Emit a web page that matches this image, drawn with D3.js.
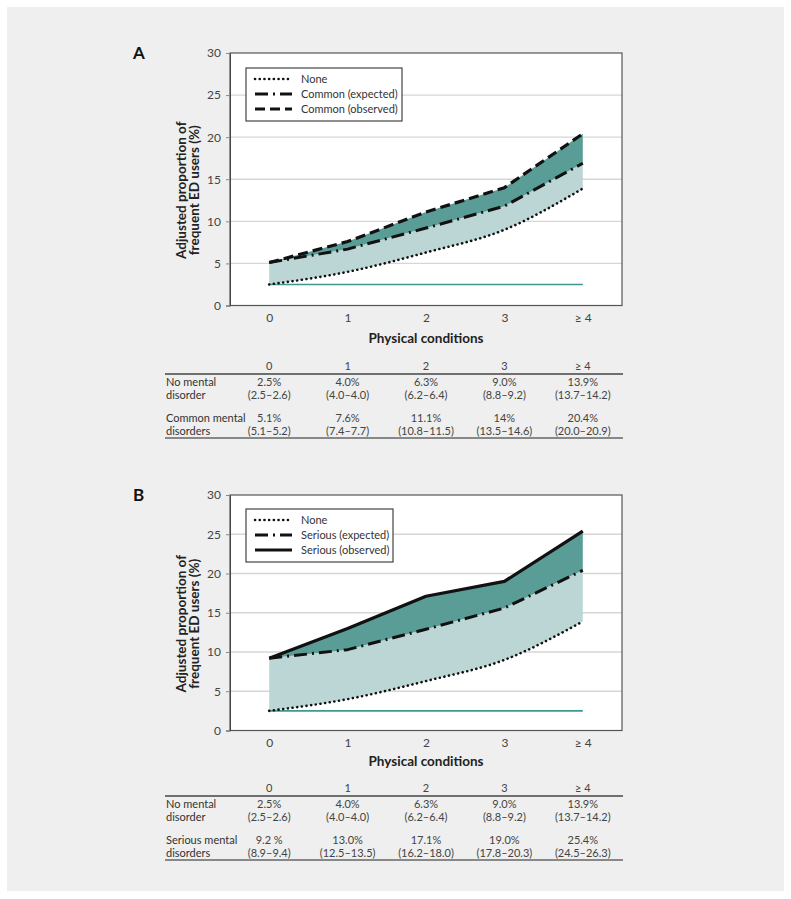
<!DOCTYPE html>
<html>
<head>
<meta charset="utf-8">
<script src="https://cdn.jsdelivr.net/npm/d3@7/dist/d3.min.js"></script>
<style>
  body { margin: 0; background: #fff; }
  svg text { font-family: Lato, "Noto Sans", sans-serif; }
</style>
</head>
<body>
<script>
// data
let categories = ['0', '1', '2', '3', '\u2265 4'];
let noneVals = [2.5, 4.0, 6.3, 9.0, 13.9];
let baseVals = [2.5, 2.5, 2.5, 2.5, 2.5];
let commonExpected = [5.1, 6.7, 9.2, 11.8, 16.9];
let commonObserved = [5.1, 7.6, 11.1, 14.0, 20.4];
let seriousExpected = [9.2, 10.3, 12.9, 15.6, 20.4];
let seriousObserved = [9.2, 13.0, 17.1, 19.0, 25.4];
let yTicks = [0, 5, 10, 15, 20, 25, 30];

let noneTable = [['2.5%', '(2.5\u20132.6)'], ['4.0%', '(4.0\u20134.0)'], ['6.3%', '(6.2\u20136.4)'], ['9.0%', '(8.8\u20139.2)'], ['13.9%', '(13.7\u201314.2)']];
let commonTable = [['5.1%', '(5.1\u20135.2)'], ['7.6%', '(7.4\u20137.7)'], ['11.1%', '(10.8\u201311.5)'], ['14%', '(13.5\u201314.6)'], ['20.4%', '(20.0\u201320.9)']];
let seriousTable = [['9.2 %', '(8.9\u20139.4)'], ['13.0%', '(12.5\u201313.5)'], ['17.1%', '(16.2\u201318.0)'], ['19.0%', '(17.8\u201320.3)'], ['25.4%', '(24.5\u201326.3)']];

let W = 791, H = 899;
let svg = d3.select('body').append('svg')
    .attr('width', W)
    .attr('height', H);

svg.append('rect')
    .attr('x', 7).attr('y', 7)
    .attr('width', 777).attr('height', 884)
    .attr('fill', '#eeefee');

let left = 230, right = 622;
let x = d3.scalePoint()
    .domain(categories)
    .range([left, right])
    .padding(0.5);

let styles = {
    none: {dash: '0.1 4.6', width: 2.6, cap: 'round'},
    expected: {dash: '13 5 2 5', width: 3, cap: 'butt'},
    dashed: {dash: '10 5', width: 3.2, cap: 'butt'},
    solid: {dash: null, width: 3.2, cap: 'butt'}
};

function drawPanel(p) {
    let g = svg.append('g');
    let y = d3.scaleLinear().domain([0, 30]).range([p.bottom, p.top]);

    g.append('text')
        .attr('x', 133).attr('y', p.top + 6)
        .attr('font-size', 17).attr('font-weight', 700)
        .attr('fill', '#111')
        .text(p.letter);

    g.append('rect')
        .attr('x', left).attr('y', p.top)
        .attr('width', right - left).attr('height', p.bottom - p.top)
        .attr('fill', '#fff');

    // grid
    g.selectAll('.grid')
        .data(yTicks.slice(1, -1))
        .enter().append('line')
        .attr('x1', left).attr('x2', right)
        .attr('y1', d => y(d)).attr('y2', d => y(d))
        .attr('stroke', '#d6d6d6').attr('stroke-width', 1.3);

    let px = (d, i) => x(categories[i]);
    let area = (lo, hi, curve) => d3.area()
        .x(px)
        .y0((d, i) => y(lo[i]))
        .y1((d, i) => y(hi[i]))
        .curve(curve);

    // light band: none -> expected, dark band: expected -> observed
    let lightLo = d3.line().x(px).y(d => y(d)).curve(d3.curveMonotoneX);
    let straight = d3.line().x(px).y(d => y(d));
    let upper = straight(p.expected);
    let lower = lightLo(p.none.slice().reverse().map((v, i, a) => v));
    // build light band as closed shape: expected forwards, none backwards
    let noneRev = d3.line().x((d, i) => x(categories[categories.length - 1 - i])).y(d => y(d))
        .curve(d3.curveMonotoneX)(p.none.slice().reverse());
    g.append('path')
        .attr('d', upper + 'L' + noneRev.slice(1) + 'Z')
        .attr('fill', '#bcd6d5');
    g.append('path')
        .attr('d', area(p.expected, p.observed, d3.curveLinear)(categories))
        .attr('fill', '#5a9d97');

    g.append('path')
        .attr('d', straight(baseVals))
        .attr('fill', 'none')
        .attr('stroke', '#3f9890').attr('stroke-width', 1.6);

    [[p.none, styles.none, lightLo], [p.expected, styles.expected, straight], [p.observed, p.obsStyle, straight]].forEach(([vals, s, ln]) => {
        g.append('path')
            .attr('d', ln(vals))
            .attr('fill', 'none')
            .attr('stroke', '#111')
            .attr('stroke-width', s.width)
            .attr('stroke-linecap', s.cap)
            .attr('stroke-linejoin', 'round')
            .attr('stroke-dasharray', s.dash);
    });

    // frame
    g.append('rect')
        .attr('x', left).attr('y', p.top)
        .attr('width', right - left).attr('height', p.bottom - p.top)
        .attr('fill', 'none').attr('stroke', '#555').attr('stroke-width', 1.2);

    let yAxis = g.append('g')
        .attr('transform', `translate(${left},0)`)
        .call(d3.axisLeft(y).tickValues(yTicks).tickSize(4).tickPadding(5));
    yAxis.select('.domain').attr('stroke', '#444');
    yAxis.selectAll('line').attr('stroke', '#888');
    yAxis.selectAll('text').attr('font-size', 12).attr('fill', '#444')
        .attr('font-family', 'Lato, "Noto Sans", sans-serif');

    let xAxis = g.append('g')
        .attr('transform', `translate(0,${p.bottom})`)
        .call(d3.axisBottom(x).tickSize(0).tickPadding(8));
    xAxis.select('.domain').remove();
    xAxis.selectAll('text').attr('font-size', 12).attr('fill', '#444')
        .attr('font-family', 'Lato, "Noto Sans", sans-serif');

    g.append('text')
        .attr('x', (left + right) / 2).attr('y', p.bottom + p.titleOff)
        .attr('text-anchor', 'middle')
        .attr('font-size', 13.5).attr('font-weight', 700).attr('fill', '#222')
        .text('Physical conditions');

    let cy = (p.top + p.bottom) / 2 + 11;
    let yl = g.append('text')
        .attr('transform', `translate(187,${cy}) rotate(-90)`)
        .attr('text-anchor', 'middle')
        .attr('font-size', 13.5).attr('font-weight', 700).attr('fill', '#222');
    yl.append('tspan').attr('x', 0).attr('dy', -1).text('Adjusted proportion of');
    yl.append('tspan').attr('x', 0).attr('dy', 13).text('frequent ED users (%)');

    // legend
    let lg = g.append('g').attr('transform', `translate(246,${p.legTop})`);
    lg.append('rect')
        .attr('width', p.legW).attr('height', 53)
        .attr('fill', '#fff').attr('stroke', '#444').attr('stroke-width', 1.2);
    p.legend.forEach((d, i) => {
        let ly = 11 + i * 15;
        lg.append('line')
            .attr('x1', 9).attr('x2', 46).attr('y1', ly).attr('y2', ly)
            .attr('stroke', '#111')
            .attr('stroke-width', d.style.width)
            .attr('stroke-linecap', d.style.cap)
            .attr('stroke-dasharray', d.style.dash);
        lg.append('text')
            .attr('x', 55).attr('y', ly + 4)
            .attr('font-size', 11).attr('fill', '#333')
            .text(d.label);
    });

    // table
    let t = g.append('g');
    let ty = p.tableTop;
    t.selectAll('.hd')
        .data(categories)
        .enter().append('text')
        .attr('x', d => x(d)).attr('y', ty + 4)
        .attr('text-anchor', 'middle')
        .attr('font-size', 11).attr('fill', '#444')
        .text(d => d);
    t.append('line')
        .attr('x1', 165).attr('x2', right + 1)
        .attr('y1', ty + 8).attr('y2', ty + 8)
        .attr('stroke', '#444').attr('stroke-width', 1.3);
    p.rows.forEach((r, ri) => {
        let ry = ty + 20 + ri * 36;
        r.label.forEach((s, k) => {
            t.append('text')
                .attr('x', 166).attr('y', ry + k * 13)
                .attr('font-size', 11).attr('fill', '#333')
                .text(s);
        });
        r.cells.forEach((c, ci) => {
            c.forEach((s, k) => {
                t.append('text')
                    .attr('x', x(categories[ci])).attr('y', ry + k * 13)
                    .attr('text-anchor', 'middle')
                    .attr('font-size', 11).attr('fill', '#444')
                    .text(s);
            });
        });
    });
    t.append('line')
        .attr('x1', 165).attr('x2', right + 1)
        .attr('y1', ty + 72).attr('y2', ty + 72)
        .attr('stroke', '#888').attr('stroke-width', 1.8);
}

drawPanel({
    letter: 'A', top: 53, bottom: 305.5, titleOff: 37,
    none: noneVals, expected: commonExpected, observed: commonObserved,
    obsStyle: styles.dashed,
    legTop: 68, legW: 156,
    legend: [
        {label: 'None', style: styles.none},
        {label: 'Common (expected)', style: styles.expected},
        {label: 'Common (observed)', style: styles.dashed}
    ],
    tableTop: 366,
    rows: [
        {label: ['No mental', 'disorder'], cells: noneTable},
        {label: ['Common mental', 'disorders'], cells: commonTable}
    ]
});

drawPanel({
    letter: 'B', top: 495, bottom: 730.5, titleOff: 35,
    none: noneVals, expected: seriousExpected, observed: seriousObserved,
    obsStyle: styles.solid,
    legTop: 509, legW: 147,
    legend: [
        {label: 'None', style: styles.none},
        {label: 'Serious (expected)', style: styles.expected},
        {label: 'Serious (observed)', style: styles.solid}
    ],
    tableTop: 788,
    rows: [
        {label: ['No mental', 'disorder'], cells: noneTable},
        {label: ['Serious mental', 'disorders'], cells: seriousTable}
    ]
});
</script>
</body>
</html>
